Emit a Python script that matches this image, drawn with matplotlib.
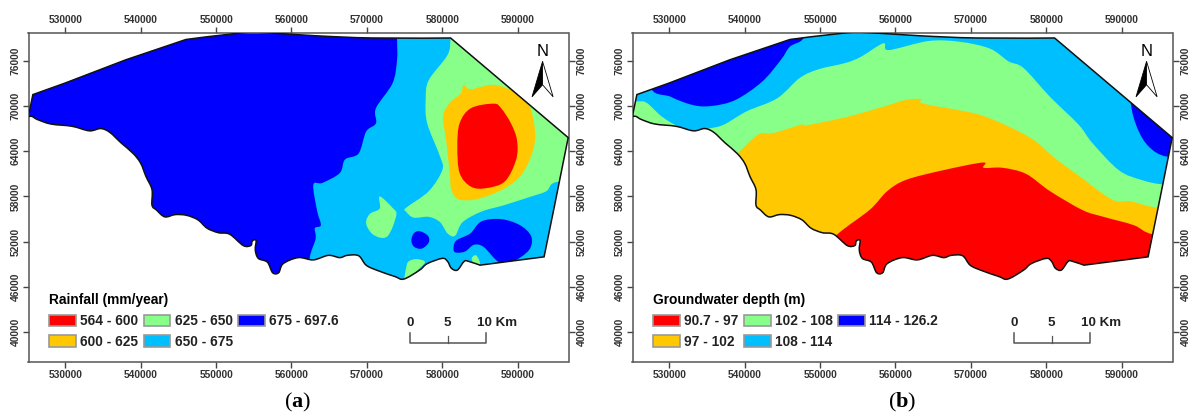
import matplotlib
matplotlib.use('Agg')
import matplotlib.pyplot as plt
from matplotlib.patches import PathPatch, Patch, Polygon
from matplotlib.path import Path

plt.rcParams['font.family'] = ['Liberation Sans', 'DejaVu Sans']
plt.rcParams['mathtext.fontset'] = 'custom'
plt.rcParams['mathtext.rm'] = 'Liberation Serif'
plt.rcParams['mathtext.bf'] = 'Liberation Serif:bold'

# all map coordinates are in thousands of metres
RED = '#ff0000'
ORANGE = '#ffc800'
GREEN = '#88ff88'
SKY = '#00bfff'
BLUE = '#0000ff'

boundary = [(525.1, 68.6), (525.7, 71.5), (529.9, 73.0), (538.0, 76.1), (546.0, 78.8), (553.6, 79.7),
            (556.6, 79.7), (563.1, 79.3), (570.7, 79.0), (581.1, 79.0), (596.7, 65.8), (594.9, 56.85),
            (593.5, 50.0), (585.0, 48.9), (583.5, 49.4), (582.9, 49.4), (582.0, 48.25), (581.2, 48.5),
            (580.7, 49.4), (580.0, 49.8), (578.0, 49.1), (577.0, 48.25), (574.9, 47.06), (573.7, 47.4),
            (571.4, 48.2), (569.9, 48.9), (568.9, 50.15), (567.4, 50.2), (566.4, 49.9), (564.9, 50.2),
            (562.9, 49.6), (560.9, 49.9), (558.9, 49.1), (558.3, 47.9), (557.5, 47.9), (556.8, 49.3),
            (555.6, 49.8), (555.2, 50.9), (555.3, 52.2), (554.8, 52.1), (554.6, 51.5), (553.6, 51.5),
            (551.8, 53.0), (550.3, 53.2), (548.8, 53.8), (547.6, 54.9), (546.1, 55.5), (544.6, 55.6),
            (543.2, 55.3), (542.1, 56.2), (541.5, 56.85), (541.5, 58.9), (540.7, 60.65), (540.0, 62.4),
            (539.0, 63.7), (537.4, 65.1), (535.9, 66.5), (534.7, 67.0), (533.2, 66.7), (530.9, 67.3),
            (528.1, 67.6), (526.3, 68.2), (525.6, 68.6)]
# vertices of the boundary that stay sharp
boundary_corners = [0, 1, 2, 3, 4, 9, 10, 11, 12, 13]

# panel a, rainfall zones
rain_sky = [(574.0, 82), (574.0, 79.0), (574.0, 76.1), (573.4, 73.0), (571.2, 69.7), (571.2, 67.7),
            (569.9, 66.6), (568.9, 63.7), (567.1, 62.9), (566.4, 61.1), (564.1, 59.8), (562.9, 59.55),
            (563.4, 56.1), (563.9, 54.2), (563.1, 53.8), (563.2, 52.4), (562.4, 49.8), (562, 45),
            (600, 45), (600, 82)]
rain_green = [(581.3, 82), (581.1, 79.0), (580.7, 76.75), (578.2, 73.4), (577.8, 70.8), (578.0, 67.7),
              (579.7, 63.3), (580.0, 61.5), (578.2, 58.7), (575.2, 56.5), (575.2, 56.0), (576.2, 55.2),
              (578.2, 55.3), (579.7, 54.6), (580.7, 53.1), (581.7, 52.8), (582.7, 54.6), (585.2, 56.0),
              (588.2, 56.85), (591.8, 58.0), (593.8, 58.7), (595.1, 59.9), (600, 60), (600, 82)]
rain_green2 = [(571.7, 58.0), (573.4, 56.5), (573.9, 55.5), (572.7, 52.7), (570.9, 52.9), (569.9, 54.4),
               (570.4, 55.7), (571.7, 56.4)]
rain_green3 = [(575.2, 48.5), (575.5, 49.35), (576.5, 49.7), (577.7, 49.3), (576.5, 48.0), (576.0, 47.0),
               (575.0, 46.8)]
rain_green4 = [(583.9, 49.8), (584.5, 50.2), (585.0, 49.1), (584.3, 49.0)]
rain_orange = [(582.8, 72.8), (582.5, 71.7), (581.0, 70.4), (580.1, 68.6), (580.5, 65.5), (581.0, 61.1),
               (581.2, 58.9), (582.2, 57.6), (584.8, 57.7), (588.3, 59.1), (590.8, 61.3), (592.3, 65.5),
               (591.6, 69.9), (589.8, 71.7), (586.8, 72.8), (583.8, 72.2)]
rain_red = [(586.8, 70.3), (583.8, 69.7), (582.3, 67.7), (582.0, 64.6), (582.3, 61.1), (583.8, 59.3),
            (585.8, 59.1), (588.3, 60.0), (589.8, 62.9), (589.9, 65.5), (589.1, 67.7), (587.8, 69.7)]
rain_blue1 = [(577.0, 53.4), (578.1, 52.8), (578.2, 51.9), (577.3, 51.1), (576.3, 51.3), (575.9, 52.1),
              (576.2, 53.1)]
rain_blue2 = [(581.5, 51.3), (581.7, 50.6), (583.0, 50.7), (584.2, 51.6), (585.5, 51.3), (587.5, 49.3),
              (589.3, 49.35), (591.5, 50.9), (591.8, 52.7), (590.3, 54.2), (587.8, 55.0), (585.2, 54.7),
              (583.7, 53.1), (581.9, 52.2)]

# panel b, groundwater zones
gw_green = [(520, 70.6), (525.6, 70.6), (527.0, 70.4), (529.0, 68.6), (531.2, 67.3), (533.7, 66.7),
            (535.2, 67.0), (537.2, 67.5), (540.3, 69.3), (544.3, 71.0), (547.3, 73.7), (549.8, 74.85),
            (553.4, 75.7), (555.4, 76.5), (558.4, 78.3), (559.1, 77.4), (564.4, 78.6), (568.5, 78.5),
            (572.5, 77.6), (575.0, 75.9), (577.0, 75.0), (580.5, 71.2), (584.3, 67.5), (586.1, 65.1),
            (589.6, 61.5), (592.6, 60.2), (595.5, 59.6), (600, 59.6), (600, 45), (520, 45)]
gw_orange = [(520, 45), (535.5, 60.5), (539.0, 63.65), (541.8, 66.2), (543.8, 66.4), (547.8, 67.6), (548.0, 67.4),
             (553.4, 68.5), (558.4, 69.9), (561.4, 70.8), (563.5, 70.9), (563.7, 70.3), (570.5, 69.0),
             (574.5, 67.5), (578.3, 65.5), (581.1, 63.1), (584.1, 60.9), (588.7, 57.6), (591.2, 57.35),
             (594.8, 56.5), (600, 56.5), (600, 45)]
gw_red = [(552, 45), (548.5, 49.2), (552.3, 53.0), (556.6, 56.25), (558.9, 58.7), (561.4, 60.2), (566.2, 61.45),
          (571.6, 62.5), (571.7, 61.8), (574.2, 61.8), (577.3, 61.0), (580.5, 58.7), (584.8, 56.2),
          (587.6, 55.3), (591.6, 54.2), (594.1, 53.0), (600, 52.5), (600, 45)]
gw_blue1 = [(528.2, 82), (527.4, 72.9), (530.2, 71.2), (533.2, 70.1), (535.7, 70.0), (538.8, 70.8),
            (542.3, 73.2), (544.8, 76.1), (546.0, 77.85), (547.8, 79.0), (547.8, 82)]
gw_blue2 = [(591.2, 75), (591.2, 70.4), (592.1, 67.0), (593.6, 64.6), (595.9, 63.3), (600, 63.3), (600, 75)]

rain_labels = ['564 - 600', '600 - 625', '625 - 650', '650 - 675', '675 - 697.6']
gw_labels = ['90.7 - 97', '97 - 102', '102 - 108', '108 - 114', '114 - 126.2']
legend_colors = [RED, ORANGE, GREEN, SKY, BLUE]

x_ticks = [530, 540, 550, 560, 570, 580, 590]
y_ticks = [40, 46, 52, 58, 64, 70, 76]

arrow_left = [(593.3, 75.9), (591.9, 71.2), (593.3, 72.8)]
arrow_right = [(593.3, 75.9), (594.7, 71.2), (593.3, 72.8)]

W, H = 1189, 415
fig = plt.figure(figsize=(W / 100, H / 100), dpi=100)


def smooth_path(pts, corners=()):
    # closed bezier path through the vertices, sharp at the listed corners
    n = len(pts)
    tang = []
    for i in range(n):
        if i in corners:
            tang.append((0.0, 0.0))
        else:
            a, b = pts[i - 1], pts[(i + 1) % n]
            tang.append(((b[0] - a[0]) / 6, (b[1] - a[1]) / 6))
    verts = [pts[0]]
    codes = [Path.MOVETO]
    for i in range(n):
        j = (i + 1) % n
        verts += [(pts[i][0] + tang[i][0], pts[i][1] + tang[i][1]),
                  (pts[j][0] - tang[j][0], pts[j][1] - tang[j][1]), pts[j]]
        codes += [Path.CURVE4] * 3
    return Path(verts, codes)


def make_panel(left_px, base, zones, title, labels):
    ax = fig.add_axes([left_px / W, 1 - 362.3 / H, 540 / W, 329.6 / H])
    ax.set_xlim(525.12, 596.74)
    ax.set_ylim(36.03, 79.7)

    edge = smooth_path(boundary, boundary_corners)
    outline = PathPatch(edge, facecolor=base, edgecolor='none', zorder=1)
    ax.add_patch(outline)
    for pts, col in zones:
        # outer vertices of a zone lie off the map, keep those sharp
        off_map = [i for i, p in enumerate(pts) if p[0] >= 600 or p[0] <= 520 or p[1] >= 82 or p[1] <= 45]
        p = PathPatch(smooth_path(pts, off_map), facecolor=col, edgecolor='none', zorder=2)
        ax.add_patch(p)
        p.set_clip_path(outline)
    ax.add_patch(PathPatch(edge, facecolor='none', edgecolor='#111111', lw=1.1, zorder=3))

    ax.set_xticks(x_ticks)
    ax.set_yticks(y_ticks)
    ax.set_xticklabels([str(v * 1000) for v in x_ticks])
    ax.set_yticklabels([str(v * 1000) for v in y_ticks])
    ax.tick_params(top=True, right=True, labeltop=True, labelright=True, length=4, width=1,
                   color='#444444', labelsize=7.4, labelcolor='#333333', pad=1.8)
    for tick in ax.xaxis.get_major_ticks():
        tick.label1.set_fontweight('bold')
        tick.label2.set_fontweight('bold')
    for tick in ax.yaxis.get_major_ticks():
        for lab in (tick.label1, tick.label2):
            lab.set_rotation(90)
            lab.set_va('center')
            lab.set_fontweight('bold')
    for s in ax.spines.values():
        s.set_color('#555555')
        s.set_linewidth(1.1)

    # north arrow
    ax.text(593.3, 77.2, 'N', ha='center', va='center', fontsize=12, color='black')
    ax.add_patch(Polygon(arrow_left, closed=True, facecolor='black', edgecolor='black', lw=0.6, zorder=4))
    ax.add_patch(Polygon(arrow_right, closed=True, facecolor='white', edgecolor='black', lw=0.6, zorder=4))

    # scale bar
    ax.plot([575.7, 575.7, 585.8, 585.8], [39.9, 38.6, 38.6, 39.9], color='#555555', lw=1.1, zorder=4)
    ax.plot([580.7, 580.7], [38.6, 39.5], color='#555555', lw=0.9, zorder=4)
    for x, s in [(575.7, '0'), (580.7, '5'), (587.2, '10 Km')]:
        ax.text(x, 41.3, s, ha='center', va='center', fontsize=9.6, fontweight='bold', color='#222222')

    handles = [Patch(facecolor=c, edgecolor='#999999', lw=1.2) for c in legend_colors]
    ax.legend(handles, labels, title=title, ncol=3, loc='lower left', bbox_to_anchor=(0.038, 0.04),
              frameon=False, borderpad=0, borderaxespad=0, handlelength=1.95, handleheight=0.95,
              handletextpad=0.33, columnspacing=0.37, labelspacing=0.5, alignment='left',
              prop={'size': 9.9, 'weight': 'bold'},
              title_fontproperties={'size': 9.9, 'weight': 'bold'},
              labelcolor='#222222')
    return ax


zones_a = [(rain_sky, SKY), (rain_green, GREEN), (rain_green2, GREEN), (rain_green3, GREEN), (rain_green4, GREEN),
           (rain_orange, ORANGE), (rain_red, RED), (rain_blue1, BLUE), (rain_blue2, BLUE)]
zones_b = [(gw_green, GREEN), (gw_orange, ORANGE), (gw_red, RED), (gw_blue1, BLUE), (gw_blue2, BLUE)]

make_panel(28.5, BLUE, zones_a, 'Rainfall (mm/year)', rain_labels)
make_panel(632.5, SKY, zones_b, 'Groundwater depth (m)', gw_labels)

fig.text(298 / W, 1 - 402 / H, r'$\mathrm{(}\mathbf{a}\mathrm{)}$', ha='center', va='center', fontsize=16)
fig.text(902 / W, 1 - 402 / H, r'$\mathrm{(}\mathbf{b}\mathrm{)}$', ha='center', va='center', fontsize=16)

fig.savefig('out.png', dpi=100)
